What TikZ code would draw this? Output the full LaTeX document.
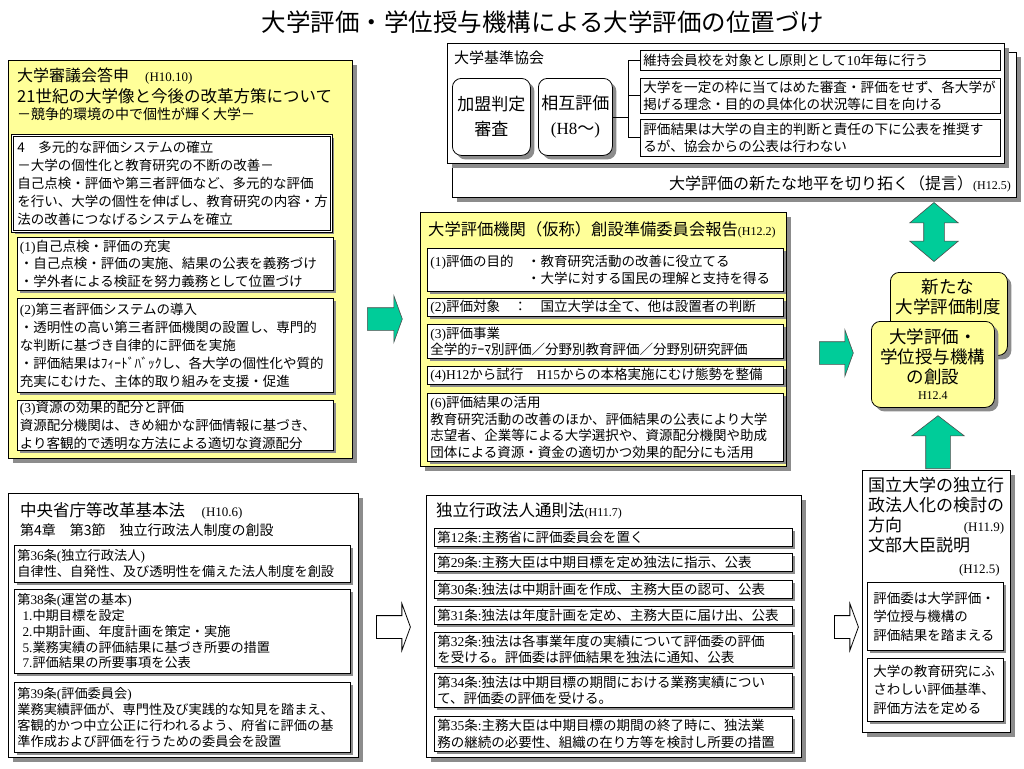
\documentclass[tikz,border=0pt]{standalone}
\usepackage{fontspec}
\setmainfont{Noto Sans CJK JP}
\newfontfamily\latfont{Liberation Serif}
\usetikzlibrary{shapes.arrows, shadows, calc, positioning}
\definecolor{Yel}{HTML}{FFFF99}
\definecolor{Grn}{HTML}{00CC99}
\definecolor{Shd}{HTML}{8C8C8C}
\newcommand{\lat}[1]{{\latfont #1}}
\newcommand{\dt}[1]{{\latfont\fontsize{13}{15}\selectfont #1}}
\newcommand{\dts}[1]{{\latfont\fontsize{12}{14}\selectfont #1}}
\newcommand{\fsT}{\fontsize{24.5}{30}\selectfont}
\newcommand{\fsH}{\fontsize{16}{20}\selectfont}
\newcommand{\fsA}{\fontsize{13.5}{17.8}\selectfont}
\newcommand{\fsB}{\fontsize{13.5}{16.5}\selectfont}
\newcommand{\fsC}{\fontsize{13.2}{15.8}\selectfont}
\newcommand{\fsD}{\fontsize{13.5}{18.5}\selectfont}
\newcommand{\fsR}{\fontsize{17.5}{20}\selectfont}
\tikzset{
  pnl/.style={
    rectangle, draw=black, line width=0.8pt, fill=white,
    anchor=north west, inner sep=0pt,
    drop shadow={shadow xshift=5pt, shadow yshift=-5pt, fill=Shd, opacity=1},
  },
  ypnl/.style={pnl, fill=Yel},
  sbx/.style={
    rectangle, draw=black, line width=0.7pt, fill=white,
    anchor=north west, align=left, inner xsep=3pt, inner ysep=0pt,
    font=\fsB,
    drop shadow={shadow xshift=3pt, shadow yshift=-3pt, fill=Shd, opacity=1},
  },
  pbx/.style={
    rectangle, draw=black, line width=0.7pt, fill=white,
    anchor=north west, align=left, inner xsep=3pt, inner ysep=0pt,
    font=\fontsize{13.6}{16.5}\selectfont,
  },
  rbx/.style={
    rectangle, rounded corners=9pt, draw=black, line width=0.8pt, fill=white,
    anchor=north west, align=center, inner sep=0pt,
    font=\fontsize{17}{25}\selectfont,
    drop shadow={shadow xshift=4pt, shadow yshift=-4pt, fill=Shd, opacity=1},
  },
  ybx/.style={rbx, fill=Yel, font=\fsR},
  hd/.style={anchor=west, inner sep=0pt, font=\fsH},
  conn/.style={draw=black, line width=0.8pt},
  % block arrows
  garr/.style={
    single arrow, single arrow head extend=12pt, single arrow tip angle=140,
    inner xsep=0pt, inner ysep=11pt, anchor=tail,
    fill=Grn, draw=black!70, line width=0.6pt,
  },
  warr/.style={garr, fill=white, draw=black, line width=0.8pt},
  gup/.style={garr, rotate=90, single arrow head extend=14pt,
    single arrow tip angle=105, inner ysep=12pt},
  gdarr/.style={
    double arrow, double arrow head extend=14pt, double arrow tip angle=100,
    inner xsep=0pt, inner ysep=10pt, rotate=90,
    fill=Grn, draw=black!70, line width=0.6pt,
  },
}

\begin{document}
\begin{tikzpicture}[x=1pt,y=-1pt]
\useasboundingbox[fill=white] (0,0) rectangle (1024,768);
\node[font=\fsT] (title) at (543,22) {大学評価・学位授与機構による大学評価の位置づけ};

% 大学基準協会
\node[pnl, minimum width=564pt, minimum height=145pt] (teigen) at (452,52) {};
\node[hd, anchor=east] (teigenT) at (1011,184) {大学評価の新たな地平を切り拓く（提言）\dts{(H12.5)}};
\node[pnl, minimum width=557pt, minimum height=120pt] (kijun) at (447,43) {};
\node[hd, font=\fontsize{15}{18}\selectfont] (kijunT) at (454,58) {大学基準協会};
\node[rbx, minimum width=78pt, minimum height=77pt] (kamei) at (452,78) {加盟判定\\審査};
\node[rbx, minimum width=74pt, minimum height=77pt] (sogo) at (538,78) {相互評価\\\lat{(H8}〜\lat{)}};
\node[pbx, text width=354pt, minimum height=20pt] (k1) at (640,50) {維持会員校を対象とし原則として\lat{10}年毎に行う};
\node[pbx, text width=354pt, minimum height=35pt] (k2) at (640,78) {大学を一定の枠に当てはめた審査・評価をせず、各大学が\\掲げる理念・目的の具体化の状況等に目を向ける};
\node[pbx, text width=354pt, minimum height=37pt] (k3) at (640,119) {評価結果は大学の自主的判断と責任の下に公表を推奨す\\るが、協会からの公表は行わない};
\coordinate (br) at ($(k1.west)+(-12,0)$);
\draw[conn] (k1.west) -- (br) |- (k3.west);
\draw[conn] (k2.west) -- (k2.west -| br);
\draw[conn] (sogo.east) -- (sogo.east -| br);

% 大学審議会答申
\node[ypnl, minimum width=344pt, minimum height=398pt] (toshin) at (8,60) {};
\node[hd] (toshinT) at (17,76) {大学審議会答申\quad\dt{(H10.10)}};
\node[hd, font=\fontsize{16.5}{20}\selectfont] (toshinS) at (17,96) {21世紀の大学像と今後の改革方策について};
\node[hd, font=\fontsize{14}{17}\selectfont] (toshinF) at (17,114) {－競争的環境の中で個性が輝く大学－};
\node[sbx, double, double distance=1.6pt, inner xsep=5pt, text width=309pt, minimum height=96pt, font=\fsA] (kakuritsu) at (12,135) {4　多元的な評価システムの確立\\－大学の個性化と教育研究の不断の改善－\\自己点検・評価や第三者評価など、多元的な評価\\を行い、大学の個性を伸ばし、教育研究の内容・方\\法の改善につなげるシステムを確立};
\node[sbx, inner xsep=2.5pt, text width=311pt, minimum height=53pt, font=\fsA] (jiko) at (17,237) {\lat{(1)}自己点検・評価の充実\\・自己点検・評価の実施、結果の公表を義務づけ\\・学外者による検証を努力義務として位置づけ};
\node[sbx, inner xsep=2.5pt, text width=311pt, minimum height=94pt, font=\fsA] (daisan) at (17,298) {\lat{(2)}第三者評価システムの導入\\・透明性の高い第三者評価機関の設置し、専門的\\な判断に基づき自律的に評価を実施\\・評価結果はﾌｨｰﾄﾞﾊﾞｯｸし、各大学の個性化や質的\\充実にむけた、主体的取り組みを支援・促進};
\node[sbx, inner xsep=2.5pt, text width=311pt, minimum height=50pt, font=\fsA] (shigen) at (17,400) {\lat{(3)}資源の効果的配分と評価\\資源配分機関は、きめ細かな評価情報に基づき、\\より客観的で透明な方法による適切な資源配分};

\node[garr, minimum height=35pt] (ga1) at (367,319) {};

% 創設準備委員会報告
\node[ypnl, minimum width=366pt, minimum height=254pt] (junbi) at (420,212) {};
\node[hd, font=\fontsize{16.3}{20}\selectfont] (junbiT) at (428,230) {大学評価機関（仮称）創設準備委員会報告\dts{(H12.2)}};
\node[sbx, text width=350pt, minimum height=43pt] (mokuteki) at (427,248) {\lat{(1)}評価の目的　・教育研究活動の改善に役立てる\\\hphantom{\lat{(1)}評価の目的　}・大学に対する国民の理解と支持を得る};
\node[sbx, text width=350pt, minimum height=18pt] (taisho) at (427,298) {\lat{(2)}評価対象　：　国立大学は全て、他は設置者の判断};
\node[sbx, text width=350pt, minimum height=34pt] (jigyo) at (427,324) {\lat{(3)}評価事業\\全学的ﾃｰﾏ別評価／分野別教育評価／分野別研究評価};
\node[sbx, text width=350pt, minimum height=18pt] (shiko) at (427,366) {\lat{(4)H12}から試行　\lat{H15}からの本格実施にむけ態勢を整備};
\node[sbx, text width=350pt, minimum height=68pt] (katsuyo) at (427,393) {\lat{(6)}評価結果の活用\\教育研究活動の改善のほか、評価結果の公表により大学\\志望者、企業等による大学選択や、資源配分機関や助成\\団体による資源・資金の適切かつ効果的配分にも活用};

\node[garr, minimum height=34pt] (ga2) at (819,353) {};

% 新たな大学評価制度
\node[gdarr, minimum height=59pt] (gd) at (934,232) {};
\node[ybx, minimum width=117pt, minimum height=83pt] (seido) at (890,272) {};
\node[font=\fsR, align=center, inner sep=0pt] (seidoT) at (948,297) {新たな\\大学評価制度};
\node[ybx, minimum width=123pt, minimum height=86pt] (sosetsu) at (871,321) {大学評価・\\学位授与機構\\の創設\\[-4pt]\dts{H12.4}};
\node[gup, minimum height=53pt] (gu) at (938,469) {};

% 中央省庁等改革基本法
\node[pnl, minimum width=350pt, minimum height=264pt] (kaikaku) at (8,493) {};
\node[hd, font=\fontsize{16.5}{20}\selectfont] (kaikakuT) at (20,511) {中央省庁等改革基本法\quad\dt{(H10.6)}};
\node[hd, font=\fontsize{14}{17}\selectfont] (kaikakuS) at (20,530) {第4章　第3節　独立行政法人制度の創設};
\node[sbx, text width=330pt, minimum height=37pt, font=\fsC] (dai36) at (14,545) {第\lat{36}条\lat{(}独立行政法人\lat{)}\\自律性、自発性、及び透明性を備えた法人制度を創設};
\node[sbx, text width=330pt, minimum height=84pt, font=\fsC] (dai38) at (14,589) {第\lat{38}条\lat{(}運営の基本\lat{)}\\\hspace*{0.4em}\lat{1.}中期目標を設定\\\hspace*{0.4em}\lat{2.}中期計画、年度計画を策定・実施\\\hspace*{0.4em}\lat{5.}業務実績の評価結果に基づき所要の措置\\\hspace*{0.4em}\lat{7.}評価結果の所要事項を公表};
\node[sbx, text width=330pt, minimum height=70pt, font=\fsC] (dai39) at (14,682) {第\lat{39}条\lat{(}評価委員会\lat{)}\\業務実績評価が、専門性及び実践的な知見を踏まえ、\\客観的かつ中立公正に行われるよう、府省に評価の基\\準作成および評価を行うための委員会を設置};

\node[warr, minimum height=34pt] (wa1) at (376,627) {};

% 独立行政法人通則法
\node[pnl, minimum width=375pt, minimum height=262pt] (tsusoku) at (426,495) {};
\node[hd, font=\fontsize{16.5}{20}\selectfont] (tsusokuT) at (436,511) {独立行政法人通則法\dts{(H11.7)}};
\node[sbx, text width=352pt, minimum height=18pt] (art12) at (434,528) {第\lat{12}条\lat{:}主務省に評価委員会を置く};
\node[sbx, text width=352pt, minimum height=18pt] (art29) at (434,553) {第\lat{29}条\lat{:}主務大臣は中期目標を定め独法に指示、公表};
\node[sbx, text width=352pt, minimum height=18pt] (art30) at (434,580) {第\lat{30}条\lat{:}独法は中期計画を作成、主務大臣の認可、公表};
\node[sbx, text width=352pt, minimum height=18pt] (art31) at (434,606) {第\lat{31}条\lat{:}独法は年度計画を定め、主務大臣に届け出、公表};
\node[sbx, text width=352pt, minimum height=34pt] (art32) at (434,632) {第\lat{32}条\lat{:}独法は各事業年度の実績について評価委の評価\\を受ける。評価委は評価結果を独法に通知、公表};
\node[sbx, text width=352pt, minimum height=34pt] (art34) at (434,673) {第\lat{34}条\lat{:}独法は中期目標の期間における業務実績につい\\て、評価委の評価を受ける。};
\node[sbx, text width=352pt, minimum height=35pt] (art35) at (434,716) {第\lat{35}条\lat{:}主務大臣は中期目標の期間の終了時に、独法業\\務の継続の必要性、組織の在り方等を検討し所要の措置};

\node[warr, minimum height=24pt] (wa2) at (834,627) {};

% 国立大学の独立行政法人化
\node[pnl, minimum width=148pt, minimum height=262pt] (hoshin) at (862,470) {};
\node[anchor=north west, inner sep=0pt, align=left, text width=136pt, font=\fontsize{17}{20}\selectfont] (hoshinT) at (868,477) {国立大学の独立行\\政法人化の検討の\\方向\hfill\dt{(H11.9)}\hspace*{4pt}\\文部大臣説明};
\node[anchor=east, inner sep=0pt] (hoshinD) at (1000,570) {\dt{(H12.5)}};
\node[sbx, inner xsep=6pt, text width=124pt, minimum height=68pt, font=\fsD] (fumae) at (867,582) {評価委は大学評価・\\学位授与機構の\\評価結果を踏まえる};
\node[sbx, inner xsep=6pt, text width=124pt, minimum height=63pt, font=\fsD] (kijunteki) at (867,658) {大学の教育研究にふ\\さわしい評価基準、\\評価方法を定める};
\end{tikzpicture}
\end{document}
